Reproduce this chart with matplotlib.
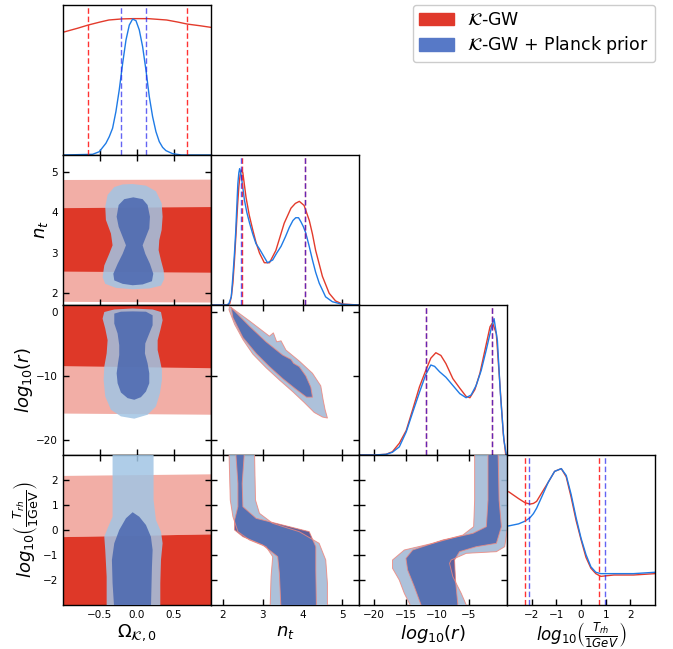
import matplotlib
matplotlib.use("Agg")
import matplotlib.pyplot as plt
from matplotlib.patches import Patch

# ---- 1D marginals (max normalised to 1) ----
om_x_red = [-1.0, -0.8, -0.66, -0.5, -0.38, -0.2, -0.05, 0.15, 0.4, 0.55, 0.68, 0.85, 1.0]
om_y_red = [0.90, 0.93, 0.953, 0.975, 0.99, 0.998, 1.0, 1.0, 0.99, 0.975, 0.96, 0.948, 0.936]
om_x_blue = [-1.0, -0.60, -0.51, -0.42, -0.375, -0.33, -0.285, -0.24, -0.194, -0.149, -0.104,
             -0.059, -0.014, 0.031, 0.076, 0.121, 0.166, 0.211, 0.256, 0.301, 0.346, 0.391,
             0.48, 0.6, 1.0]
om_y_blue = [0.0, 0.005, 0.024, 0.086, 0.134, 0.196, 0.318, 0.477, 0.672, 0.843, 0.953,
             0.997, 0.985, 0.917, 0.794, 0.623, 0.428, 0.281, 0.171, 0.098, 0.056, 0.032,
             0.01, 0.0, 0.0]

nt_x_red = [1.72, 2.1, 2.17, 2.21, 2.25, 2.29, 2.33, 2.37, 2.4, 2.43, 2.46, 2.5, 2.58, 2.66,
            2.75, 2.83, 2.92, 3.04, 3.17, 3.33, 3.54, 3.71, 3.82, 3.92, 4.04, 4.17, 4.25,
            4.33, 4.42, 4.5, 4.67, 4.83, 5.0, 5.42]
nt_y_red = [0.0, 0.0, 0.01, 0.06, 0.16, 0.33, 0.53, 0.74, 0.87, 0.95, 0.99, 0.97, 0.79, 0.66,
            0.55, 0.46, 0.38, 0.31, 0.31, 0.40, 0.60, 0.71, 0.745, 0.76, 0.73, 0.62, 0.52,
            0.40, 0.30, 0.21, 0.086, 0.03, 0.007, 0.0]
nt_x_blue = [1.72, 2.1, 2.15, 2.21, 2.25, 2.29, 2.32, 2.35, 2.375, 2.4, 2.42, 2.46, 2.54, 2.6,
             2.67, 2.75, 2.83, 2.92, 3.0, 3.12, 3.25, 3.35, 3.46, 3.57, 3.67, 3.76, 3.83,
             3.9, 3.96, 4.02, 4.08, 4.16, 4.25, 4.33, 4.42, 4.58, 4.75, 5.0, 5.42]
nt_y_blue = [0.0, 0.0, 0.01, 0.06, 0.21, 0.38, 0.53, 0.73, 0.89, 0.97, 1.0, 0.95, 0.77, 0.68,
             0.6, 0.52, 0.45, 0.41, 0.37, 0.31, 0.33, 0.38, 0.43, 0.5, 0.57, 0.62, 0.64,
             0.64, 0.61, 0.575, 0.53, 0.44, 0.33, 0.24, 0.16, 0.06, 0.024, 0.005, 0.0]

lr_x_red = [-22.5, -20.0, -18.1, -17.1, -16.0, -14.9, -13.9, -12.8, -11.8, -11.0, -10.2, -9.4,
            -8.6, -7.5, -6.4, -5.4, -4.8, -4.0, -3.2, -2.4, -1.6, -1.2, -0.6, -0.05, 0.5, 0.9, 1.1]
lr_y_red = [0.0, 0.0, 0.005, 0.024, 0.086, 0.18, 0.33, 0.5, 0.62, 0.71, 0.75, 0.73, 0.67, 0.56,
            0.49, 0.43, 0.42, 0.48, 0.6, 0.77, 0.94, 0.97, 0.89, 0.53, 0.16, 0.0, 0.0]
lr_x_blue = [-22.5, -20.0, -18.1, -17.1, -16.0, -14.9, -13.9, -12.8, -11.8, -11.0, -10.4, -9.6,
             -8.6, -7.5, -6.4, -5.4, -4.6, -3.8, -3.0, -2.2, -1.4, -0.96, -0.43, 0.05, 0.6, 1.0, 1.1]
lr_y_blue = [0.0, 0.0, 0.005, 0.02, 0.06, 0.17, 0.31, 0.46, 0.59, 0.66, 0.65, 0.61, 0.57, 0.51,
             0.45, 0.42, 0.44, 0.51, 0.62, 0.77, 0.93, 1.0, 0.84, 0.45, 0.11, 0.0, 0.0]

lt_x = [-2.93, -2.53, -2.27, -2.07, -1.93, -1.8, -1.6, -1.33, -1.07, -0.8, -0.6, -0.4, -0.2,
        0.0, 0.2, 0.4, 0.6, 0.8, 1.33, 2.13, 3.0]
lt_y_red = [0.83, 0.78, 0.75, 0.74, 0.745, 0.76, 0.82, 0.90, 0.98, 1.0, 0.94, 0.79, 0.62, 0.48,
            0.35, 0.27, 0.23, 0.21, 0.22, 0.22, 0.23]
lt_y_blue = [0.58, 0.595, 0.615, 0.64, 0.67, 0.71, 0.79, 0.90, 0.98, 1.0, 0.95, 0.81, 0.64,
             0.49, 0.37, 0.28, 0.24, 0.23, 0.23, 0.23, 0.24]

# 68% limits (dashed lines)
om_lim_red = [-0.66, 0.68]
om_lim_blue = [-0.22, 0.12]
nt_lim_red = [2.47, 4.06]
nt_lim_blue = [2.45, 4.05]
lr_lim_red = [-11.75, -1.33]
lr_lim_blue = [-11.7, -1.3]
lt_lim_red = [-2.29, 0.71]
lt_lim_blue = [-2.11, 0.96]

# ---- 2D contours (outlines) ----
# Omega_K vs n_t
ok_nt_red95 = [(-1.1, 1.78), (1.1, 1.76), (1.1, 4.81), (-1.1, 4.80)]
ok_nt_red68 = [(-1.1, 2.53), (1.1, 2.50), (1.1, 4.13), (-1.1, 4.10)]
ok_nt_blue95 = [(-0.059, 4.70), (0.121, 4.66), (0.256, 4.52), (0.333, 4.225), (0.346, 3.89),
                (0.333, 3.56), (0.301, 3.31), (0.292, 3.06), (0.324, 2.81), (0.36, 2.56),
                (0.369, 2.35), (0.324, 2.18), (0.166, 2.11), (-0.059, 2.09), (-0.285, 2.125),
                (-0.429, 2.225), (-0.465, 2.39), (-0.442, 2.68), (-0.375, 2.97), (-0.33, 3.18),
                (-0.352, 3.47), (-0.42, 3.81), (-0.429, 4.14), (-0.397, 4.43), (-0.307, 4.625),
                (-0.194, 4.69)]
ok_nt_blue68 = [(-0.05, 4.37), (0.076, 4.325), (0.143, 4.18), (0.175, 3.89), (0.166, 3.60),
                (0.121, 3.39), (0.076, 3.18), (0.112, 2.97), (0.175, 2.72), (0.22, 2.475),
                (0.202, 2.29), (0.076, 2.21), (-0.059, 2.19), (-0.194, 2.225), (-0.307, 2.31),
                (-0.32, 2.475), (-0.262, 2.72), (-0.194, 2.97), (-0.149, 3.18), (-0.194, 3.39),
                (-0.248, 3.64), (-0.275, 3.89), (-0.248, 4.18), (-0.172, 4.325)]

# Omega_K vs log10(r)
ok_lr_red95 = [(-1.1, -15.9), (1.1, -16.1), (1.1, 3.0), (-1.1, 3.0)]
ok_lr_red68 = [(-1.1, -8.46), (1.1, -8.82), (1.1, 3.0), (-1.1, 3.0)]
ok_lr_blue95 = [(-0.059, 0.55), (0.211, 0.4), (0.324, 0.0), (0.346, -1.29), (0.315, -2.85),
                (0.279, -4.41), (0.279, -5.97), (0.31, -7.52), (0.337, -9.08), (0.337, -10.64),
                (0.31, -12.72), (0.256, -14.79), (0.143, -16.09), (-0.037, -16.71),
                (-0.217, -16.35), (-0.352, -15.31), (-0.429, -13.23), (-0.451, -10.64),
                (-0.442, -8.56), (-0.41, -6.49), (-0.397, -4.41), (-0.429, -2.59),
                (-0.465, -1.03), (-0.442, 0.0), (-0.307, 0.4)]
ok_lr_blue68 = [(-0.059, 0.1), (0.121, 0.05), (0.211, -0.51), (0.211, -2.07), (0.166, -3.37),
                (0.112, -4.93), (0.107, -6.49), (0.143, -8.04), (0.166, -9.6), (0.166, -11.16),
                (0.121, -12.46), (0.053, -13.34), (-0.037, -13.75), (-0.127, -13.49),
                (-0.217, -12.61), (-0.262, -11.16), (-0.275, -9.6), (-0.257, -8.04),
                (-0.24, -6.74), (-0.24, -5.19), (-0.262, -3.37), (-0.307, -1.81),
                (-0.307, -0.25), (-0.217, 0.05)]

# Omega_K vs log10(T_rh)
ok_lt_red95 = [(-1.1, -0.29), (1.1, -0.17), (1.1, 2.23), (-1.1, 2.16)]
ok_lt_red68 = [(-1.1, -3.5), (1.1, -3.5), (1.1, -0.17), (-1.1, -0.29)]
ok_lt_blue95 = [(-0.33, 3.2), (0.224, 3.2), (0.224, 1.2), (0.256, 0.4), (0.324, -0.07),
                (0.346, -0.53), (0.324, -1.2), (0.315, -2.13), (0.315, -3.2), (-0.41, -3.2),
                (-0.41, -1.87), (-0.429, -0.8), (-0.442, -0.27), (-0.397, 0.07), (-0.33, 0.53),
                (-0.33, 1.2)]
ok_lt_blue68 = [(-0.059, 0.71), (0.031, 0.53), (0.121, 0.2), (0.188, -0.27), (0.211, -0.8),
                (0.202, -1.47), (0.188, -3.2), (-0.307, -3.2), (-0.33, -2.13), (-0.339, -1.2),
                (-0.307, -0.53), (-0.24, 0.0), (-0.149, 0.47)]

# n_t vs log10(r)
nt_lr_95 = [(2.168, 0.887), (2.668, -1.397), (3.168, -3.785), (3.268, -3.266), (3.351, -4.668),
            (3.46, -4.512), (3.584, -5.966), (3.918, -7.68), (4.251, -9.6), (4.459, -11.57),
            (4.518, -13.75), (4.568, -15.31), (4.626, -16.61), (4.501, -16.45), (4.293, -15.73),
            (4.043, -14.17), (3.751, -12.46), (3.418, -10.64), (3.084, -8.72), (2.751, -6.59),
            (2.501, -4.30), (2.293, -1.92), (2.151, 0.368)]
nt_lr_68 = [(2.209, 0.68), (2.668, -2.228), (3.084, -4.668), (3.501, -6.745), (3.709, -7.42),
            (3.776, -8.04), (3.918, -8.56), (4.084, -10.02), (4.209, -11.78), (4.251, -13.34),
            (4.101, -13.34), (3.834, -12.09), (3.501, -10.43), (3.168, -8.56), (2.834, -6.485),
            (2.501, -3.99), (2.251, -0.878)]

# n_t vs log10(T_rh)
nt_lt_95 = [(2.151, 3.2), (2.184, 1.2), (2.251, 0.533), (2.376, -0.067), (2.668, -0.4),
            (3.084, -0.667), (3.251, -1.067), (3.209, -1.867), (3.184, -3.2), (4.626, -3.2),
            (4.626, -2.133), (4.584, -1.2), (4.418, -0.533), (3.918, -0.067), (3.251, 0.267),
            (2.918, 0.667), (2.818, 1.2), (2.793, 3.2)]
nt_lt_68 = [(2.318, 3.2), (2.376, 1.867), (2.376, 0.933), (2.293, 0.4), (2.293, 0.0),
            (2.501, -0.267), (3.001, -0.6), (3.376, -1.067), (3.418, -1.733), (3.46, -3.2),
            (4.351, -3.2), (4.334, -1.6), (4.334, -0.667), (4.168, -0.067), (3.501, 0.2),
            (2.834, 0.467), (2.501, 0.933), (2.484, 1.867), (2.543, 3.2)]

# log10(r) vs log10(T_rh)
lr_lt_95 = [(-4.04, 3.2), (-4.04, 1.2), (-4.20, 0.133), (-5.90, -0.2), (-10.69, -0.533),
            (-15.21, -0.8), (-17.08, -1.2), (-17.08, -1.533), (-16.01, -2.0), (-15.21, -2.533),
            (-13.88, -3.2), (-5.11, -3.2), (-5.37, -3.0), (-6.17, -2.533), (-7.50, -1.867),
            (-8.03, -1.333), (-7.77, -1.2), (-5.37, -0.933), (-0.59, -0.867), (0.74, -0.667),
            (1.2, 0.133), (1.2, 3.2)]
lr_lt_68 = [(-1.92, 3.2), (-1.92, 1.2), (-2.18, 0.133), (-4.31, -0.133), (-9.10, -0.4),
            (-13.88, -0.8), (-14.95, -1.133), (-14.68, -1.6), (-13.62, -2.267), (-12.55, -3.0),
            (-12.29, -3.2), (-6.70, -3.2), (-6.70, -3.0), (-7.08, -2.0), (-7.23, -1.2),
            (-6.44, -0.867), (-3.78, -0.667), (-0.59, -0.533), (0.21, 0.133), (-0.16, 1.2),
            (-0.32, 3.2)]

# ---- axes setup ----
labels_x = [r'$\Omega_{\mathcal{K},0}$', r'$n_t$', r'$log_{10}(r)$',
            r'$log_{10}\left(\frac{T_{rh}}{1GeV}\right)$']
labels_y = [None, r'$n_t$', r'$log_{10}(r)$',
            r'$log_{10}\left(\frac{T_{rh}}{\mathrm{1GeV}}\right)$']
lims = [(-1.0, 1.0), (1.7, 5.42), (-22.4, 1.1), (-3.0, 3.0)]
ticks = [[-0.5, 0.0, 0.5], [2, 3, 4, 5], [-20, -15, -10, -5], [-2, -1, 0, 1, 2]]
yticks = [[], [2, 3, 4, 5], [-20, -10, 0], [-2, -1, 0, 1, 2]]

red_dark = '#de3828'
red_light = '#f2aea6'
red_edge = '#f08a80'
blue_dark = '#4966af'
blue_light = '#a1c5e4'
blue_alpha = 0.85
line_red = '#e33b2c'
line_blue = '#1f7be6'

fig = plt.figure(figsize=(6.73, 6.49), dpi=100)
gs = fig.add_gridspec(4, 4, left=0.0936, right=0.9733, bottom=0.0678, top=0.9923,
                      hspace=0, wspace=0)

axes = {}
for i in range(4):
    for j in range(i + 1):
        ax = fig.add_subplot(gs[i, j])
        axes[(i, j)] = ax
        ax.set_xlim(*lims[j])
        ax.set_xticks(ticks[j])
        if i == j:
            ax.set_ylim(0, 1.1)
            ax.set_yticks([])
            ax.tick_params(direction='in', length=4, width=1, labelsize=7.5)
        else:
            ax.set_ylim(*lims[i])
            ax.set_yticks(yticks[i])
            ax.tick_params(direction='in', top=True, right=True, length=4, width=1,
                           labelsize=7.5)
        for s in ax.spines.values():
            s.set_linewidth(1.0)
        if i < 3:
            ax.tick_params(labelbottom=False)
        else:
            ax.set_xlabel(labels_x[j], fontsize=13, labelpad=2)
        if j > 0 or i == 0:
            ax.tick_params(labelleft=False)
        else:
            ax.set_ylabel(labels_y[i], fontsize=13, labelpad=1)

# the tall fraction label needs a little less room
axes[(3, 3)].xaxis.label.set_fontsize(12)
axes[(3, 3)].xaxis.set_label_coords(0.5, -0.105)


def fill_poly(ax, pts, color, alpha=1.0, edge=None, z=1):
    xs = [p[0] for p in pts]
    ys = [p[1] for p in pts]
    ax.fill(xs, ys, color=color, alpha=alpha, lw=0, zorder=z)
    if edge is not None:
        ax.plot(xs + [xs[0]], ys + [ys[0]], color=edge, lw=0.7, alpha=0.8, zorder=z + 0.5)


# diagonal
diag = [
    (om_x_red, om_y_red, om_x_blue, om_y_blue, om_lim_red, om_lim_blue),
    (nt_x_red, nt_y_red, nt_x_blue, nt_y_blue, nt_lim_red, nt_lim_blue),
    (lr_x_red, lr_y_red, lr_x_blue, lr_y_blue, lr_lim_red, lr_lim_blue),
    (lt_x, lt_y_red, lt_x, lt_y_blue, lt_lim_red, lt_lim_blue),
]
for k, (xr, yr, xb, yb, limr, limb) in enumerate(diag):
    ax = axes[(k, k)]
    ax.plot(xr, yr, color=line_red, lw=1.0)
    ax.plot(xb, yb, color=line_blue, lw=1.0)
    for v in limr:
        ax.axvline(v, color='#ff3333', ls='--', lw=1.0, dashes=(4, 2))
    for v in limb:
        ax.axvline(v, color='#2222ee', ls='--', lw=1.0, dashes=(4, 2), alpha=0.7)

# column 0: flat red bands + blue blobs
col0 = [
    (1, ok_nt_red95, ok_nt_red68, ok_nt_blue95, ok_nt_blue68),
    (2, ok_lr_red95, ok_lr_red68, ok_lr_blue95, ok_lr_blue68),
    (3, ok_lt_red95, ok_lt_red68, ok_lt_blue95, ok_lt_blue68),
]
for i, r95, r68, b95, b68 in col0:
    ax = axes[(i, 0)]
    fill_poly(ax, r95, red_light, z=1)
    fill_poly(ax, r68, red_dark, z=2)
    fill_poly(ax, b95, blue_light, alpha=blue_alpha, z=3)
    fill_poly(ax, b68, blue_dark, alpha=blue_alpha, z=4)

# other 2D panels: red and blue nearly identical
others = [
    ((2, 1), nt_lr_95, nt_lr_68),
    ((3, 1), nt_lt_95, nt_lt_68),
    ((3, 2), lr_lt_95, lr_lt_68),
]
for key, c95, c68 in others:
    ax = axes[key]
    fill_poly(ax, c95, red_light, z=1)
    fill_poly(ax, c68, red_dark, z=2)
    fill_poly(ax, c95, blue_light, alpha=blue_alpha, z=3)
    fill_poly(ax, c68, blue_dark, alpha=blue_alpha, z=4)
    fill_poly(ax, c95, 'none', edge=red_edge, z=5)
    fill_poly(ax, c68, 'none', edge=red_edge, z=5)

handles = [Patch(color='#e0392b', label=r'$\mathcal{K}$-GW'),
           Patch(color='#5779c7', label=r'$\mathcal{K}$-GW + Planck prior')]
fig.legend(handles=handles, loc='upper right', bbox_to_anchor=(655 / 673, 1 - 5 / 649),
           borderaxespad=0, fontsize=12.5, handlelength=2.0, handleheight=0.75,
           borderpad=0.35, labelspacing=0.3, handletextpad=0.8, framealpha=1.0)

fig.savefig('out.png', dpi=100)
